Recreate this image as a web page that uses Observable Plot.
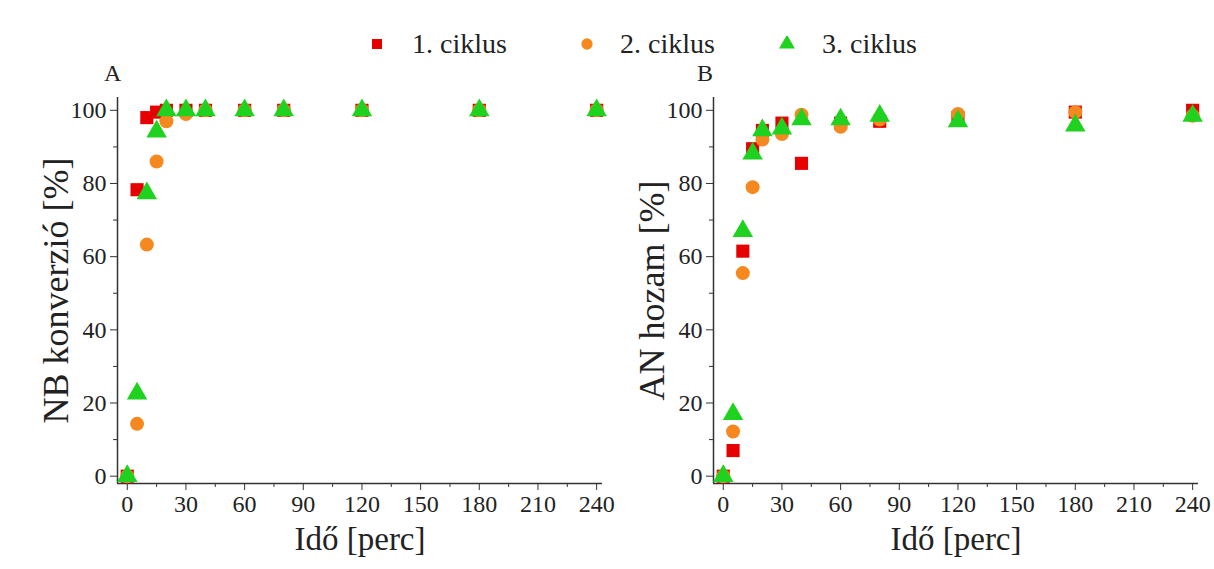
<!DOCTYPE html>
<html>
<head>
<meta charset="utf-8">
<script src="https://cdn.jsdelivr.net/npm/d3@7"></script>
<script src="https://cdn.jsdelivr.net/npm/@observablehq/plot@0.6"></script>
<style>
  html, body { margin: 0; padding: 0; background: #fff; }
  #wrap, #wrap * { font-family: "Liberation Serif", "Times New Roman", serif; }
  #wrap { position: relative; width: 1214px; height: 569px; overflow: hidden; }
  .leg-sym { position: absolute; top: 36px; }
  .leg-txt { position: absolute; top: 27px; font-size: 28px; color: #222; line-height: 34px; white-space: nowrap; }
  .panel { position: absolute; top: 60px; }
  .plab { position: absolute; font-size: 24px; color: #222; top: 60px; }
  svg text { font-family: "Liberation Serif", "Times New Roman", serif; }
</style>
</head>
<body>
<div id="wrap">
  <div id="legend"></div>
  <div class="plab" style="left:104px">A</div>
  <div class="plab" style="left:697px">B</div>
  <div id="pa" class="panel" style="left:0px"></div>
  <div id="pb" class="panel" style="left:596px"></div>
</div>
<script>
// Time points (minutes)
const times = [0, 5, 10, 15, 20, 30, 40, 60, 80, 120, 180, 240];
const seriesNames = ["1. ciklus", "2. ciklus", "3. ciklus"];
const seriesColors = ["#e60000", "#f5891f", "#1fd21f"];
const seriesSymbols = ["square", "circle", "triangle"];

// Panel A: NB konverzió [%]
const nbCycle1 = [0, 78.3, 98, 99.5, 100, 100, 100, 100, 100, 100, 100, 100];
const nbCycle2 = [0, 14.3, 63.3, 86, 97, 99, 100, 100, 100, 100, 100, 100];
const nbCycle3 = [0, 22.6, 77.3, 94.2, 100, 100, 100, 100, 100, 100, 100, 100];

// Panel B: AN hozam [%]
const anCycle1 = [0, 7, 61.5, 89.5, 94.5, 96.5, 85.5, 96.5, 97, 98, 99.5, 100];
const anCycle2 = [0, 12.2, 55.5, 79, 92, 93.5, 98.8, 95.5, 97.5, 99, 99.5, 98.5];
const anCycle3 = [0, 17, 67, 88.2, 94.5, 95, 97.5, 97.5, 98.5, 97, 95.8, 98.5];

const xTicks = [0, 30, 60, 90, 120, 150, 180, 210, 240];
const xMinorTicks = [15, 45, 75, 105, 135, 165, 195, 225];
const yTicks = [0, 20, 40, 60, 80, 100];
const yMinorTicks = [10, 30, 50, 70, 90];
const xDomain = [-5, 243];
const yDomain = [-2, 103.5];

function rows(vals, s) {
  return times.map((t, i) => ({t, v: vals[i], s}));
}

const FONT = "'Liberation Serif', 'Times New Roman', serif";

function panel(series, ylabel) {
  const marks = [
    Plot.ruleX([xDomain[0]], {stroke: "#333", strokeWidth: 1.5}),
    Plot.ruleY([yDomain[0]], {stroke: "#333", strokeWidth: 1.5}),
    Plot.axisX({ticks: xTicks, tickSize: 7, tickPadding: 4, fontSize: 24, label: null, stroke: "#333", fill: "#222"}),
    Plot.axisX({ticks: xMinorTicks, tickSize: 4, text: null, label: null, stroke: "#333"}),
    Plot.axisY({ticks: yTicks, tickSize: 7, tickPadding: 4, fontSize: 24, label: null, stroke: "#333", fill: "#222"}),
    Plot.axisY({ticks: yMinorTicks, tickSize: 4, text: null, label: null, stroke: "#333"}),
    Plot.text([ylabel], {frameAnchor: "left", dx: -61, rotate: -90, fontSize: 36, fill: "#222", textAnchor: "middle"}),
    Plot.text(["Idő [perc]"], {frameAnchor: "bottom", dy: 66, fontSize: 33, fill: "#222"})
  ];
  series.forEach((vals, i) => {
    const r = seriesSymbols[i] === "square" ? 7.4 : seriesSymbols[i] === "circle" ? 7 : 7.6;
    marks.push(Plot.dot(rows(vals, seriesNames[i]), {
      x: "t", y: "v", symbol: () => seriesSymbols[i], r,
      fill: seriesColors[i], stroke: "none"
    }));
  });
  return Plot.plot({
    width: 610, height: 509,
    marginLeft: 117, marginRight: 8, marginTop: 37, marginBottom: 86,
    style: {fontFamily: FONT, color: "#222", background: "transparent", overflow: "visible"},
    x: {domain: xDomain},
    y: {domain: yDomain},
    symbol: {type: "identity"},
    marks
  });
}

document.getElementById("pa").appendChild(panel([nbCycle1, nbCycle2, nbCycle3], "NB konverzió [%]"));
document.getElementById("pb").appendChild(panel([anCycle1, anCycle2, anCycle3], "AN hozam [%]"));

// Legend (HTML, above the charts)
const legSymX = [369, 579, 779];
const legTxtX = [412, 620, 822];
const leg = document.getElementById("legend");
seriesNames.forEach((name, i) => {
  const sym = d3.symbol().type(seriesSymbols[i] === "square" ? d3.symbolSquare : seriesSymbols[i] === "circle" ? d3.symbolCircle : d3.symbolTriangle).size(seriesSymbols[i] === "triangle" ? 110 : 100)();
  const s = document.createElement("div");
  s.className = "leg-sym";
  s.style.left = legSymX[i] + "px";
  s.innerHTML = `<svg width="16" height="16" viewBox="-8 -8 16 16"><path d="${sym}" fill="${seriesColors[i]}"/></svg>`;
  leg.appendChild(s);
  const t = document.createElement("div");
  t.className = "leg-txt";
  t.style.left = legTxtX[i] + "px";
  t.textContent = name;
  leg.appendChild(t);
});
</script>
</body>
</html>
